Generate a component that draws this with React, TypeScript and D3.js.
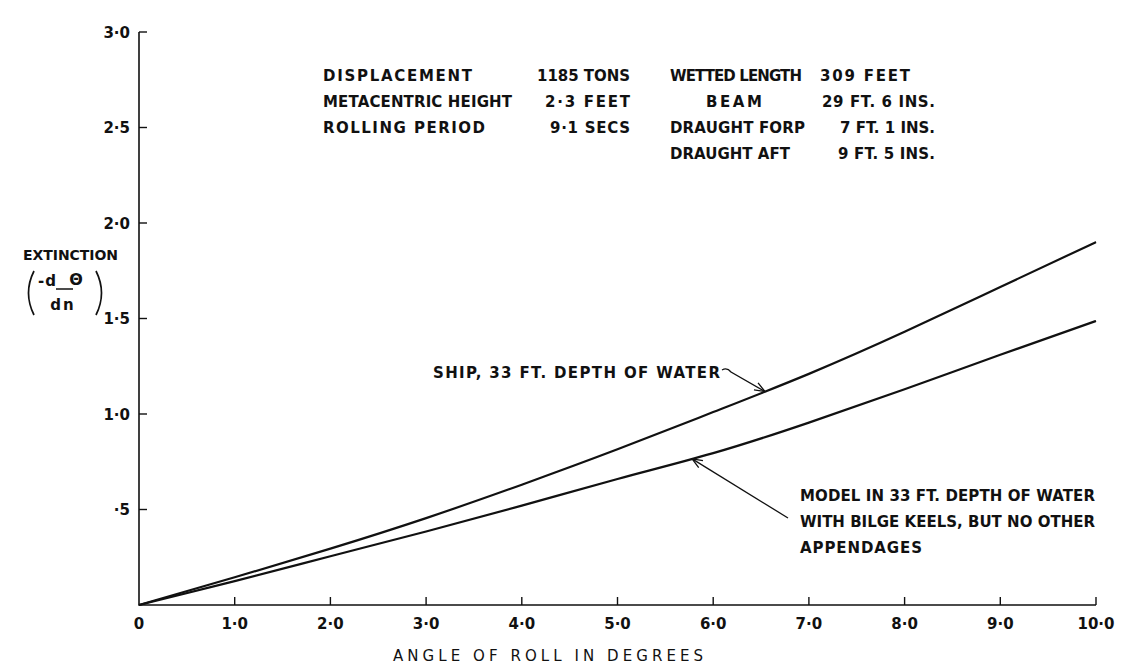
import React from "react";
import * as d3 from "d3";

const angles = [0, 1, 2, 3, 4, 5, 6, 7, 8, 9, 10];
const shipValues = [0, 0.145, 0.295, 0.455, 0.63, 0.815, 1.01, 1.21, 1.43, 1.665, 1.9];
const modelValues = [0, 0.125, 0.255, 0.385, 0.52, 0.66, 0.795, 0.955, 1.13, 1.31, 1.487];
const xTicks = [0, 1, 2, 3, 4, 5, 6, 7, 8, 9, 10];
const xTickLabels = ["0", "1·0", "2·0", "3·0", "4·0", "5·0", "6·0", "7·0", "8·0", "9·0", "10·0"];
const yTicks = [0.5, 1, 1.5, 2, 2.5, 3];
const yTickLabels = ["·5", "1·0", "1·5", "2·0", "2·5", "3·0"];
const headerCol1 = ["DISPLACEMENT", "METACENTRIC HEIGHT", "ROLLING PERIOD"];
const headerCol2 = ["1185 TONS", "2·3 FEET", "9·1 SECS"];
const headerCol3 = ["WETTED LENGTH", "BEAM", "DRAUGHT FORP", "DRAUGHT AFT"];
const headerCol4 = ["309 FEET", "29 FT. 6 INS.", "7 FT. 1 INS.", "9 FT. 5 INS."];
const shipLabel = "SHIP, 33 FT. DEPTH OF WATER";
const modelLabel = ["MODEL IN 33 FT. DEPTH OF WATER", "WITH BILGE KEELS, BUT NO OTHER", "APPENDAGES"];
const xTitle = "ANGLE OF ROLL IN DEGREES";
const yTitle = "EXTINCTION";
const shipArrowAngle = 6.54;
const modelArrowAngle = 5.78;

const W = 1138;
const H = 670;
const FONT = "'DejaVu Sans', 'Liberation Sans', sans-serif";
const INK = "#111";

const col1Layout = [[323, 149], [323, 189], [323, 162]];
const col2Layout = [[537, 93], [545, 85], [550, 80]];
const col3Layout = [[670, 132], [706, 56], [670, 135], [670, 120]];
const col4Layout = [[820, 90], [822, 113], [840, 95], [838, 97]];
const modelLayout = [[800, 295], [800, 295], [800, 122]];

function interp(xs: number[], ys: number[], v: number) {
  return d3.scaleLinear().domain(xs).range(ys)(v);
}

export default function App() {
  const x = d3.scaleLinear().domain([0, 10]).range([139, 1096]);
  const y = d3.scaleLinear().domain([0, 3]).range([605, 32]);
  const line = d3
    .line<number>()
    .x((_, i) => x(angles[i]))
    .y((d) => y(d))
    .curve(d3.curveNatural);

  const textStyle: React.CSSProperties = {
    fontFamily: FONT,
    fontWeight: 700,
    fontSize: 15,
    fill: INK,
  };

  const T = (key: string, t: string, tx: number, ty: number, len: number, extra: React.CSSProperties = {}) => (
    <text key={key} x={tx} y={ty} textLength={len} lengthAdjust="spacing" style={{ ...textStyle, ...extra }}>
      {t}
    </text>
  );

  const arrowHead = (tx: number, ty: number, fx: number, fy: number) => {
    const a = Math.atan2(ty - fy, tx - fx);
    const L = 11;
    const s = 0.38;
    const p1 = [tx - L * Math.cos(a - s), ty - L * Math.sin(a - s)];
    const p2 = [tx - L * Math.cos(a + s), ty - L * Math.sin(a + s)];
    return `M${p1[0]},${p1[1]}L${tx},${ty}L${p2[0]},${p2[1]}`;
  };

  const shipTipX = x(shipArrowAngle);
  const shipTipY = y(interp(angles, shipValues, shipArrowAngle));
  const modelTipX = x(modelArrowAngle);
  const modelTipY = y(interp(angles, modelValues, modelArrowAngle));

  const tickStyle: React.CSSProperties = { ...textStyle, fontSize: 15 };

  return (
    <svg width={W} height={H} style={{ position: "absolute", left: 0, top: 0, background: "#fff" }}>
      <rect width={W} height={H} fill="#fff" />
      {/* axes */}
      <path d={`M${x(0)},${y(3)}V${y(0)}H${x(10)}`} fill="none" stroke={INK} strokeWidth={1.6} />
      {yTicks.map((t, i) => (
        <g key={"yt" + i}>
          <line x1={x(0)} x2={x(0) + 8} y1={y(t)} y2={y(t)} stroke={INK} strokeWidth={1.4} />
          <text x={x(0) - 9} y={y(t)} dy="0.37em" textAnchor="end" style={tickStyle}>
            {yTickLabels[i]}
          </text>
        </g>
      ))}
      {xTicks.map((t, i) => (
        <g key={"xt" + i}>
          {t > 0 && <line x1={x(t)} x2={x(t)} y1={y(0)} y2={y(0) - 8} stroke={INK} strokeWidth={1.4} />}
          <text x={x(t)} y={629} textAnchor="middle" style={tickStyle}>
            {xTickLabels[i]}
          </text>
        </g>
      ))}
      {/* axis titles */}
      {T("xt", xTitle, 393, 661, 310, { fontWeight: 400, fontSize: 15 })}
      {T("yt", yTitle, 23, 260, 95, { fontSize: 14 })}
      <path d="M34,271 Q23,293 34,315" fill="none" stroke={INK} strokeWidth={1.7} />
      <path d="M96,271 Q107,293 96,315" fill="none" stroke={INK} strokeWidth={1.7} />
      <text x={38} y={286} style={{ ...textStyle, fontSize: 15, letterSpacing: 1 }}>
        -d
      </text>
      <line x1={56} x2={73} y1={289} y2={289} stroke={INK} strokeWidth={1.5} />
      <text x={76} y={285} textAnchor="middle" style={{ ...textStyle, fontSize: 16 }}>
        Θ
      </text>
      <text x={63} y={310} textAnchor="middle" style={{ ...textStyle, fontSize: 15, letterSpacing: 2 }}>
        dn
      </text>

      {/* header table */}
      {headerCol1.map((t, i) => T("h1" + i, t, col1Layout[i][0], 81 + i * 26, col1Layout[i][1]))}
      {headerCol2.map((t, i) => T("h2" + i, t, col2Layout[i][0], 81 + i * 26, col2Layout[i][1]))}
      {headerCol3.map((t, i) => T("h3" + i, t, col3Layout[i][0], 81 + i * 26, col3Layout[i][1]))}
      {headerCol4.map((t, i) => T("h4" + i, t, col4Layout[i][0], 81 + i * 26, col4Layout[i][1]))}

      {/* curves */}
      <path d={line(shipValues) || ""} fill="none" stroke={INK} strokeWidth={2.2} strokeLinejoin="round" />
      <path d={line(modelValues) || ""} fill="none" stroke={INK} strokeWidth={2.2} strokeLinejoin="round" />

      {/* ship annotation */}
      {T("ship", shipLabel, 433, 378, 287)}
      <path d={`M722,370 Q727,367 731,372 L${shipTipX},${shipTipY}`} fill="none" stroke={INK} strokeWidth={1.3} />
      <path d={arrowHead(shipTipX, shipTipY, 731, 372)} fill="none" stroke={INK} strokeWidth={1.3} />

      {/* model annotation */}
      {modelLabel.map((t, i) => T("ml" + i, t, modelLayout[i][0], 501 + i * 26, modelLayout[i][1]))}
      <line x1={788} y1={518} x2={modelTipX} y2={modelTipY} stroke={INK} strokeWidth={1.3} />
      <path d={arrowHead(modelTipX, modelTipY, 788, 518)} fill="none" stroke={INK} strokeWidth={1.3} />
    </svg>
  );
}
